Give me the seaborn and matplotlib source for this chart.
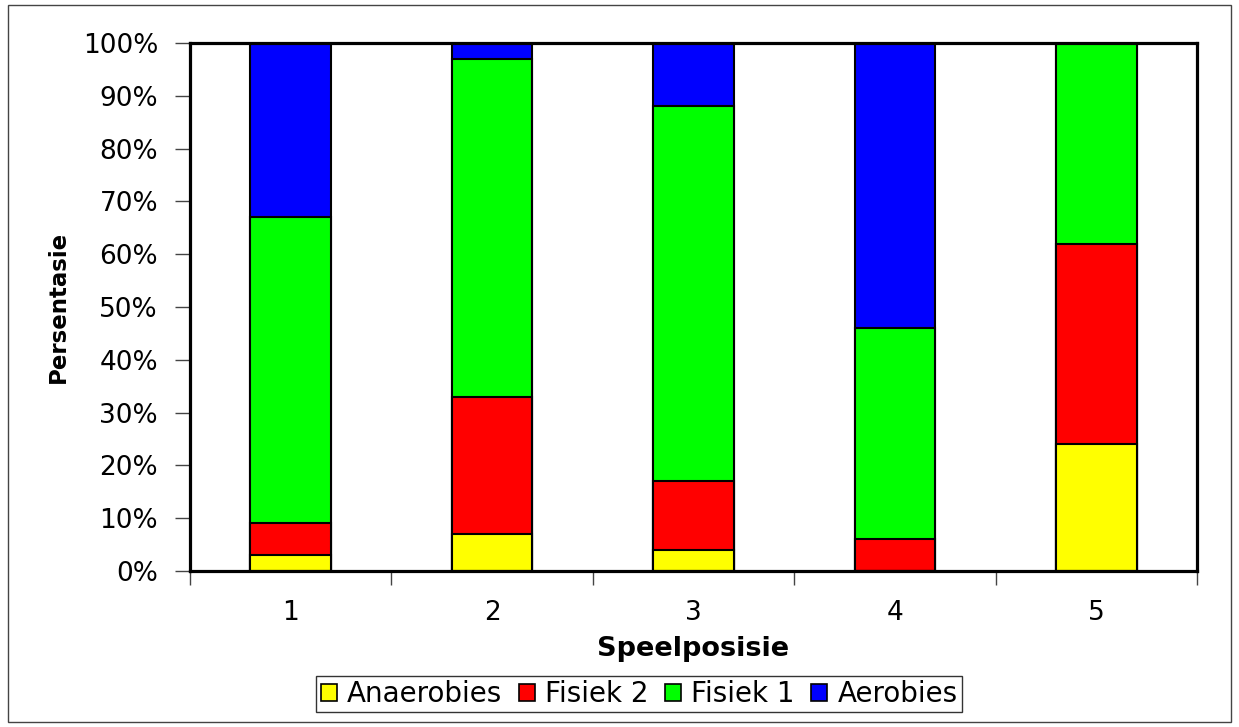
import matplotlib
matplotlib.use("Agg")
import matplotlib.pyplot as plt
import matplotlib.patches as mpatches
import numpy as np
import pandas as pd
import seaborn as sns

categories = ["1", "2", "3", "4", "5"]
anaerobies = [3, 7, 4, 0, 24]
fisiek2 = [6, 26, 13, 6, 38]
fisiek1 = [58, 64, 71, 40, 38]
aerobies = [33, 3, 12, 54, 0]

series_names = ["Anaerobies", "Fisiek 2", "Fisiek 1", "Aerobies"]
series_colors = ["#FFFF00", "#FF0000", "#00FF00", "#0000FF"]
y_ticks = [0, 10, 20, 30, 40, 50, 60, 70, 80, 90, 100]
y_tick_labels = [f"{v}%" for v in y_ticks]

sns.set_style("white")
plt.rcParams["font.family"] = ["DejaVu Sans"]
plt.rcParams["text.color"] = "black"
plt.rcParams["axes.labelcolor"] = "black"
plt.rcParams["xtick.color"] = "black"
plt.rcParams["ytick.color"] = "black"

df = pd.DataFrame({"pos": categories, "Anaerobies": anaerobies, "Fisiek 2": fisiek2,
                   "Fisiek 1": fisiek1, "Aerobies": aerobies})
cum = df[series_names].cumsum(axis=1)

fig = plt.figure(figsize=(12.39, 7.27), dpi=100)
ax = fig.add_axes([190/1239, 1-571/727, (1197-190)/1239, (571-43)/727])

# draw cumulative bars from the top series down so lower ones overlay
for name, color in reversed(list(zip(series_names, series_colors))):
    sns.barplot(x=df["pos"], y=cum[name], color=color, width=0.4, ax=ax,
                edgecolor="black", linewidth=1.5, saturation=1)

ax.set_ylim(0, 100)
ax.set_xlim(-0.5, 4.5)
ax.set_yticks(y_ticks)
ax.set_yticklabels(y_tick_labels, fontsize=19)
ax.tick_params(axis="y", direction="out", length=11, width=1, color="#444444",
               labelcolor="black", pad=12, left=True)
ax.set_xticks(range(len(categories)))
ax.set_xticklabels(categories, fontsize=19)
ax.tick_params(axis="x", which="major", length=0, pad=21, labelcolor="black")
ax.set_xticks(np.arange(-0.5, len(categories), 1.0), minor=True)
ax.tick_params(axis="x", which="minor", direction="out", length=10, width=1,
               color="#444444", bottom=True)

for sp in ax.spines.values():
    sp.set_visible(True)
    sp.set_linewidth(2.3)
    sp.set_color("black")

ax.set_xlabel("Speelposisie", fontsize=19.5, fontweight="bold", labelpad=7)
ax.set_ylabel("Persentasie", fontsize=16.5, fontweight="bold", labelpad=9)

handles = [mpatches.Patch(facecolor=c, edgecolor="black", linewidth=1.2, label=n)
           for n, c in zip(series_names, series_colors)]
leg = fig.legend(handles=handles, loc="center", bbox_to_anchor=(639/1239, 1-694/727),
                 ncol=4, fontsize=20, frameon=True, fancybox=False, edgecolor="black",
                 handlelength=0.58, handleheight=0.58, handletextpad=0.36, columnspacing=0.6,
                 borderpad=0.15, borderaxespad=0)
leg.get_frame().set_linewidth(1.0)

border = mpatches.Rectangle((8/1239, 1-722/727), (1231-8)/1239, (722-5)/727,
                            transform=fig.transFigure, fill=False, edgecolor="#444444", linewidth=1.0)
fig.patches.append(border)

fig.savefig("out.png", dpi=100)
